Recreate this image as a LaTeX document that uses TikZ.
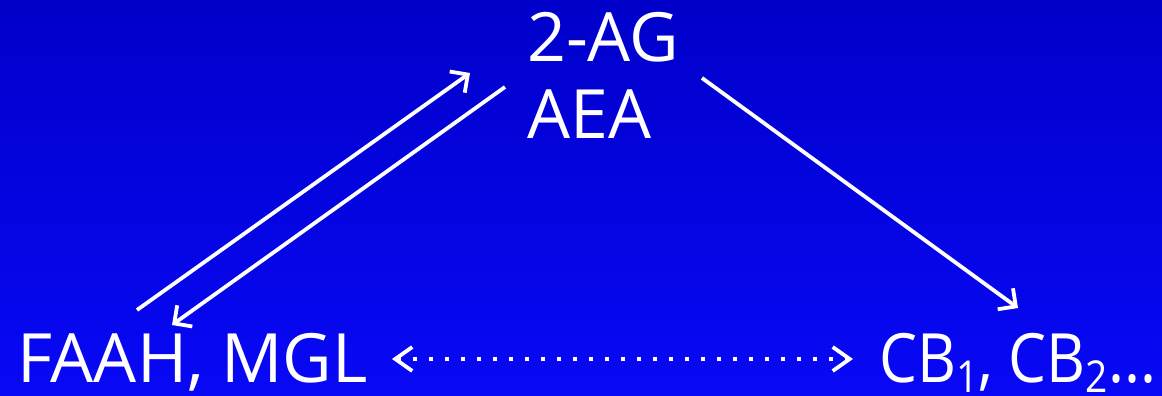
\documentclass[tikz,border=0pt]{standalone}
\usepackage{fontspec}
\usepackage{graphicx}
\setmainfont{Open Sans}
\usetikzlibrary{arrows.meta}
\definecolor{bgtop}{RGB}{0,0,202}
\definecolor{bgbot}{RGB}{8,8,246}
\newcommand{\lowsub}[1]{\raisebox{-10pt}{\fontsize{44}{44}\selectfont #1}}
\tikzset{
  lbl/.style={text=white, inner sep=0pt, anchor=base west, font=\fontsize{68}{72}\selectfont},
  conn/.style={draw=white, line width=3.8pt, -{Straight Barb[length=13pt,width=26pt,line width=3.8pt]}},
  dotconn/.style={draw=white, line width=4pt, dash pattern=on 4pt off 12pt,
    {Straight Barb[length=17pt,width=24pt,line width=3.8pt]}-{Straight Barb[length=17pt,width=24pt,line width=3.8pt]}}
}
\begin{document}
\begin{tikzpicture}[x=1pt,y=-1pt]
\shade[top color=bgtop, bottom color=bgbot] (0,0) rectangle (1162,396);
\useasboundingbox (0,0) rectangle (1162,396);
\node[lbl] (ag) at (527,62) {2-AG};
\node[lbl] (aea) at (527,138) {AEA};
\node[lbl] (faah) at (17,382) {FAAH, MGL};
\node[lbl] (cb) at (879,382) {\resizebox{277pt}{\height}{CB\lowsub{1}, CB\lowsub{2}...}};
\coordinate (u1) at (137,310);
\coordinate (u2) at (470,73);
\coordinate (d1) at (505,87);
\coordinate (d2) at (172,325);
\coordinate (r1) at (702,78);
\coordinate (r2) at (1018,308);
\coordinate (h1) at (392,359);
\coordinate (h2) at (853,359);
\draw[conn] (u1) -- (u2);
\draw[conn] (d1) -- (d2);
\draw[conn] (r1) -- (r2);
\draw[dotconn] (h1) -- (h2);
\end{tikzpicture}
\end{document}
